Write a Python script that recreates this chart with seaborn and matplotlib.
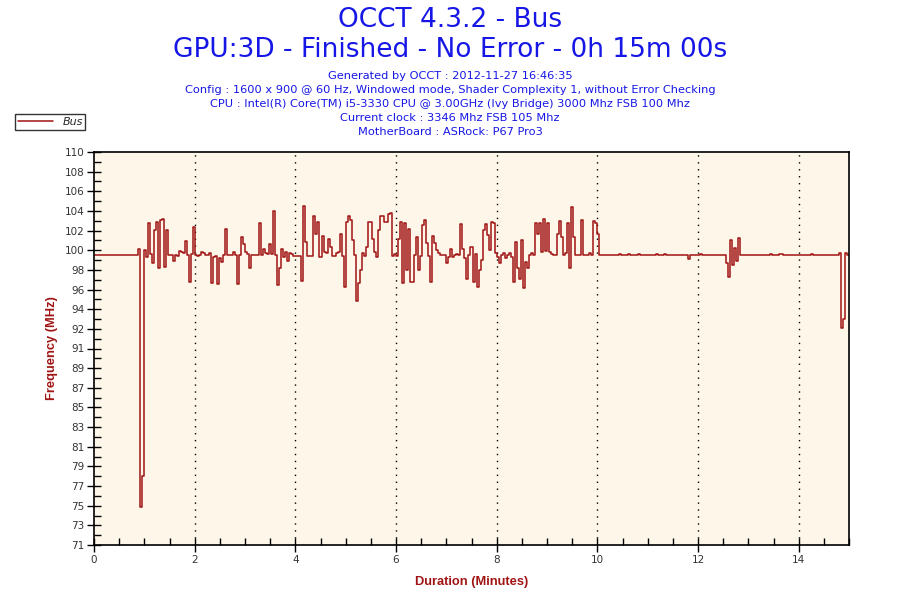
import matplotlib
matplotlib.use("Agg")
import matplotlib.pyplot as plt
import seaborn as sns
import numpy as np
import pandas as pd

# Bus clock samples, one every 0.04 min (2.4 s)
sample_step = 0.04
bus_mhz = [
    99.8, 99.8, 99.8, 99.8, 99.8, 99.8, 99.8, 99.8, 99.8, 99.8, 99.8, 99.8, 99.8, 99.8, 99.8, 99.8, 99.8, 99.8, 99.8, 99.8,
    99.8, 99.8, 100.4, 74.8, 77.8, 100.3, 99.6, 103.0, 99.9, 99.0, 102.3, 103.1, 98.5, 103.3, 103.4, 98.6, 102.3, 99.8, 99.8, 99.2,
    99.8, 99.7, 100.2, 100.1, 100.0, 101.2, 99.8, 97.1, 99.9, 102.6, 99.8, 99.7, 99.8, 100.1, 100.0, 99.8, 99.8, 100.0, 97.0, 99.6,
    99.7, 96.9, 99.5, 99.1, 99.8, 102.4, 99.8, 99.8, 99.8, 100.1, 99.8, 96.9, 99.8, 101.6, 100.9, 100.1, 99.9, 98.5, 99.8, 99.8,
    99.8, 99.8, 103.0, 99.8, 100.4, 100.0, 99.9, 100.9, 99.9, 104.1, 99.8, 96.8, 98.5, 100.4, 99.6, 100.1, 99.2, 100.0, 99.9, 99.7,
    99.7, 99.7, 99.7, 97.2, 104.6, 101.1, 99.7, 99.7, 99.7, 103.6, 101.9, 103.1, 99.6, 101.7, 100.1, 100.0, 101.4, 100.6, 99.7, 99.7,
    100.0, 100.1, 101.9, 99.7, 96.6, 103.1, 103.6, 103.3, 101.3, 99.8, 95.2, 97.0, 98.3, 100.0, 99.7, 100.6, 103.1, 103.1, 101.4, 100.1,
    99.6, 102.3, 103.6, 103.6, 103.1, 103.1, 103.8, 103.9, 99.7, 99.9, 99.7, 101.4, 103.1, 97.0, 103.0, 98.3, 102.4, 97.1, 97.1, 99.8,
    101.6, 98.3, 99.7, 102.8, 103.3, 101.0, 99.7, 97.1, 101.7, 101.0, 100.3, 100.0, 99.8, 99.8, 99.8, 99.0, 99.6, 100.4, 99.6, 99.8,
    99.9, 99.8, 102.9, 100.4, 99.5, 97.4, 99.8, 100.6, 97.1, 99.9, 96.6, 98.3, 99.3, 102.3, 102.9, 101.8, 100.3, 103.1, 103.0, 100.0,
    99.6, 99.0, 99.8, 100.0, 99.5, 99.8, 100.0, 99.6, 97.1, 101.1, 98.5, 97.4, 101.3, 96.5, 99.1, 98.5, 99.8, 100.0, 99.8, 103.0,
    101.9, 103.0, 100.1, 103.4, 100.2, 103.0, 100.1, 99.9, 99.8, 99.8, 101.9, 103.2, 101.6, 99.8, 100.0, 103.0, 98.5, 104.5, 101.6, 99.8,
    99.8, 99.8, 103.3, 99.8, 99.8, 99.8, 100.0, 99.8, 103.2, 103.0, 101.9, 99.8, 99.8, 99.8, 99.8, 99.8, 99.8, 99.8, 99.8, 99.8,
    99.8, 99.9, 99.8, 99.8, 99.8, 99.9, 99.8, 99.8, 99.8, 99.8, 99.9, 99.8, 99.8, 99.8, 99.8, 99.8, 99.8, 99.8, 99.8, 99.9,
    99.8, 99.8, 99.8, 99.9, 99.8, 99.8, 99.8, 99.8, 99.8, 99.8, 99.8, 99.8, 99.8, 99.8, 99.8, 99.4, 99.8, 99.8, 99.8, 99.8,
    99.8, 99.9, 99.8, 99.8, 99.8, 99.8, 99.8, 99.8, 99.8, 99.8, 99.8, 99.8, 99.8, 99.8, 99.0, 97.6, 101.3, 98.8, 100.5, 99.2,
    101.5, 99.8, 99.8, 99.8, 99.8, 99.8, 99.8, 99.8, 99.8, 99.8, 99.8, 99.8, 99.8, 99.8, 99.8, 99.8, 99.9, 99.8, 99.8, 99.8,
    99.9, 99.9, 99.8, 99.8, 99.8, 99.8, 99.8, 99.8, 99.8, 99.8, 99.8, 99.8, 99.8, 99.8, 99.8, 99.8, 99.9, 99.8, 99.8, 99.8,
    99.8, 99.8, 99.8, 99.8, 99.8, 99.8, 99.8, 99.8, 99.8, 99.8, 100.0, 92.5, 93.4, 100.0, 99.8, 99.8,
]
minutes = np.arange(len(bus_mhz)) * sample_step

ytick_labels = ['71', '73', '75', '77', '79', '81', '83', '85', '87', '89', '91',
                '92', '94', '96', '98', '100', '102', '104', '106', '108', '110']
xtick_values = [0, 2, 4, 6, 8, 10, 12, 14]

title_lines = ['OCCT 4.3.2 - Bus', 'GPU:3D - Finished - No Error - 0h 15m 00s']
info_lines = [
    'Generated by OCCT : 2012-11-27 16:46:35',
    'Config : 1600 x 900 @ 60 Hz, Windowed mode, Shader Complexity 1, without Error Checking',
    'CPU : Intel(R) Core(TM) i5-3330 CPU @ 3.00GHz (Ivy Bridge) 3000 Mhz FSB 100 Mhz',
    'Current clock : 3346 Mhz FSB 105 Mhz',
    'MotherBoard : ASRock: P67 Pro3',
]

line_red = '#a01414'
blue = '#1616e6'

sns.set_style('white')
plt.rcParams['font.family'] = ['DejaVu Sans']

df = pd.DataFrame({'Duration': minutes, 'Bus': bus_mhz})

fig = plt.figure(figsize=(9, 6), dpi=100)
ax = fig.add_axes([94 / 900, 1 - 545 / 600, 755 / 900, 393 / 600])
ax.set_facecolor('#fdf6e9')

sns.lineplot(data=df, x='Duration', y='Bus', ax=ax, color=line_red, lw=1.1,
             drawstyle='steps-post', label='Bus', legend=False, sort=False)

ax.set_xlim(0, 15)
ax.set_ylim(71, 110)
ax.set_xticks(xtick_values)
ax.set_xticks(np.arange(0, 15.01, 0.5), minor=True)
ax.set_xticklabels([str(v) for v in xtick_values])
ax.set_yticks(np.linspace(71, 110, 21))
ax.set_yticks(np.linspace(71, 110, 41), minor=True)
ax.set_yticklabels(ytick_labels)
ax.tick_params(which='major', direction='inout', length=10, width=1, color='black',
               labelsize=7.5, labelcolor='#333333', left=True, bottom=True, pad=2)
ax.tick_params(which='minor', direction='in', length=5, width=1, color='black',
               left=True, bottom=True)
for s in ax.spines.values():
    s.set_color('black')
    s.set_linewidth(1.2)

for xv in xtick_values[1:]:
    ax.axvline(xv, color='black', lw=1, ls=(0, (1, 4)), zorder=0.5)

ax.set_xlabel('Duration (Minutes)', family='Liberation Sans', fontweight='bold',
              fontsize=9.3, color=line_red, labelpad=8)
ax.set_ylabel('Frequency (MHz)', family='Liberation Sans', fontweight='bold',
              fontsize=9.3, color=line_red, labelpad=5)

fig.text(0.5, 1 - 20 / 600, title_lines[0], ha='center', va='center', fontsize=19, color=blue)
fig.text(0.5, 1 - 50 / 600, title_lines[1], ha='center', va='center', fontsize=19, color=blue)
for i, line in enumerate(info_lines):
    fig.text(0.5, 1 - (76 + i * 14) / 600, line, ha='center', va='center',
             fontsize=8.2, color=blue)

leg = fig.legend(loc='upper left', bbox_to_anchor=(15 / 900, 1 - 114 / 600), frameon=True,
                 fancybox=False, edgecolor='black', fontsize=8, handlelength=3.2,
                 borderpad=0.25, borderaxespad=0)
for t in leg.get_texts():
    t.set_fontstyle('italic')
leg.get_frame().set_linewidth(1)

fig.savefig('out.png', dpi=100, facecolor='white')
